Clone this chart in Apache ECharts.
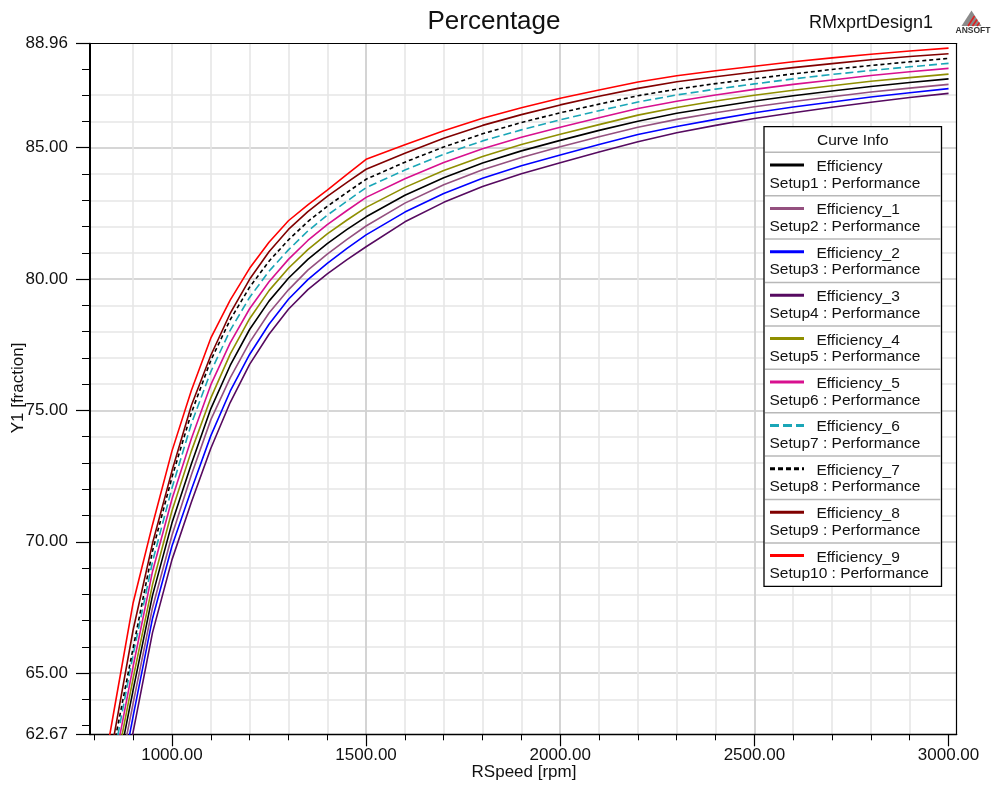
<!DOCTYPE html>
<html>
<head>
<meta charset="utf-8">
<script src="https://cdn.jsdelivr.net/npm/echarts@6/dist/echarts.min.js"></script>
<style>
  html, body { margin: 0; padding: 0; background: #fff; }
  #main { width: 991px; height: 787px; }
</style>
</head>
<body>
<div id="main"></div>
<script>
// speeds (rpm)
const rpm = [800, 850, 900, 950, 1000, 1050, 1100, 1150, 1200, 1250, 1300, 1350, 1400, 1450, 1500,
  1600, 1700, 1800, 1900, 2000, 2100, 2200, 2300, 2400, 2500, 2600, 2700, 2800, 2900, 3000]

// efficiency curves (%)
const eff0 = [56.5, 60.6, 64.35, 67.96, 70.71, 72.96, 75.06, 76.71, 78.08, 79.16, 80.03, 80.75, 81.35, 81.88, 82.37,
  83.19, 83.86, 84.42, 84.88, 85.28, 85.66, 86.01, 86.31, 86.55, 86.78, 86.98, 87.16, 87.33, 87.48, 87.62]
const eff1 = [56.0, 60.1, 63.85, 67.49, 70.24, 72.54, 74.64, 76.24, 77.59, 78.71, 79.59, 80.34, 80.95, 81.5, 82.02,
  82.89, 83.59, 84.16, 84.63, 85.04, 85.42, 85.78, 86.08, 86.33, 86.56, 86.76, 86.94, 87.12, 87.27, 87.41]
const eff2 = [55.4, 59.5, 63.35, 67.08, 69.83, 71.98, 74.03, 75.73, 77.13, 78.28, 79.23, 79.98, 80.6, 81.16, 81.68,
  82.55, 83.26, 83.84, 84.31, 84.72, 85.12, 85.5, 85.81, 86.08, 86.33, 86.55, 86.74, 86.93, 87.09, 87.25]
const eff3 = [54.8, 58.9, 62.75, 66.54, 69.31, 71.5, 73.55, 75.3, 76.75, 77.9, 78.85, 79.6, 80.2, 80.73, 81.23,
  82.18, 82.92, 83.52, 84.01, 84.43, 84.84, 85.23, 85.57, 85.85, 86.11, 86.33, 86.54, 86.73, 86.91, 87.07]
const eff4 = [56.9, 61.0, 64.8, 68.37, 71.17, 73.45, 75.47, 77.14, 78.49, 79.56, 80.41, 81.12, 81.72, 82.24, 82.73,
  83.49, 84.13, 84.67, 85.12, 85.51, 85.88, 86.24, 86.53, 86.78, 87.0, 87.19, 87.36, 87.53, 87.67, 87.8]
const eff5 = [57.3, 61.4, 65.25, 68.87, 71.62, 73.92, 75.97, 77.57, 78.87, 79.9, 80.75, 81.47, 82.07, 82.6, 83.11,
  83.82, 84.44, 84.96, 85.4, 85.78, 86.14, 86.49, 86.77, 87.01, 87.22, 87.41, 87.58, 87.75, 87.89, 88.02]
const eff6 = [57.7, 61.8, 65.7, 69.24, 72.04, 74.49, 76.47, 78.05, 79.3, 80.3, 81.11, 81.83, 82.43, 82.96, 83.48,
  84.15, 84.75, 85.26, 85.68, 86.06, 86.41, 86.74, 87.01, 87.23, 87.43, 87.62, 87.79, 87.94, 88.08, 88.21]
const eff7 = [58.1, 62.2, 65.95, 69.65, 72.45, 74.9, 76.9, 78.45, 79.69, 80.68, 81.49, 82.19, 82.77, 83.29, 83.8,
  84.45, 85.03, 85.53, 85.96, 86.33, 86.66, 86.98, 87.23, 87.44, 87.63, 87.81, 87.98, 88.13, 88.27, 88.4]
const eff8 = [58.4, 62.54, 66.64, 69.94, 72.69, 75.19, 77.09, 78.69, 79.99, 81.04, 81.89, 82.57, 83.15, 83.67, 84.18,
  84.79, 85.36, 85.85, 86.26, 86.63, 86.96, 87.26, 87.51, 87.7, 87.88, 88.05, 88.2, 88.35, 88.47, 88.58]
const eff9 = [59.3, 63.5, 67.67, 70.65, 73.45, 75.76, 77.75, 79.2, 80.41, 81.4, 82.22, 82.82, 83.39, 83.98, 84.56,
  85.11, 85.65, 86.12, 86.52, 86.88, 87.2, 87.5, 87.74, 87.93, 88.1, 88.27, 88.42, 88.56, 88.68, 88.79]

const names = ['Efficiency', 'Efficiency_1', 'Efficiency_2', 'Efficiency_3', 'Efficiency_4',
  'Efficiency_5', 'Efficiency_6', 'Efficiency_7', 'Efficiency_8', 'Efficiency_9']
const setups = ['Setup1 : Performance', 'Setup2 : Performance', 'Setup3 : Performance', 'Setup4 : Performance',
  'Setup5 : Performance', 'Setup6 : Performance', 'Setup7 : Performance', 'Setup8 : Performance',
  'Setup9 : Performance', 'Setup10 : Performance']
const values = [eff0, eff1, eff2, eff3, eff4, eff5, eff6, eff7, eff8, eff9]

// axis ticks
const xMinor = [800, 900, 1000, 1100, 1200, 1300, 1400, 1500, 1600, 1700, 1800, 1900, 2000,
  2100, 2200, 2300, 2400, 2500, 2600, 2700, 2800, 2900, 3000]
const xMajor = [1000, 1500, 2000, 2500, 3000]
const yMinor = [63, 64, 65, 66, 67, 68, 69, 70, 71, 72, 73, 74, 75, 76, 77, 78, 79, 80, 81, 82, 83, 84, 85, 86, 87, 88]
const yMajor = [62.67, 65, 70, 75, 80, 85, 88.96]

const colors = ['#000000', '#94507f', '#0000ff', '#560a60', '#8f8f00',
  '#d8108f', '#1aa6b7', '#000000', '#800000', '#ff0000']
const dashes = ['solid', 'solid', 'solid', 'solid', 'solid',
  'solid', [8, 4], [4, 3], 'solid', 'solid']

const FONT = '"Liberation Sans", Arial, sans-serif'

const myChart = echarts.init(document.getElementById('main'))

// legend box (Curve Info)
const lgX = 764, lgY = 126.7, lgW = 177.5, headH = 25.6, rowH = 43.4
const legendEls = [
  { type: 'rect', shape: { x: lgX, y: lgY, width: lgW, height: headH + rowH * 10 },
    style: { fill: '#fff', stroke: '#000', lineWidth: 1.3 }, z: 20 },
  { type: 'text', x: lgX + lgW / 2, y: lgY + 14,
    style: { text: 'Curve Info', font: '15.5px ' + FONT, fill: '#111', align: 'center', verticalAlign: 'middle' }, z: 21 }
]
names.forEach((n, i) => {
  const top = lgY + headH + rowH * i
  legendEls.push({ type: 'line', shape: { x1: lgX + 1, y1: top, x2: lgX + lgW - 1, y2: top },
    style: { stroke: '#b8b8b8', lineWidth: 1.5 }, z: 21 })
  legendEls.push({ type: 'line', shape: { x1: 770, y1: top + 12.7, x2: 804, y2: top + 12.7 },
    style: { stroke: colors[i], lineWidth: 3, lineDash: dashes[i] === 'solid' ? null : [dashes[i][0] + 1, dashes[i][1]] }, z: 21 })
  legendEls.push({ type: 'text', x: 816.5, y: top + 14.4,
    style: { text: n, font: '15.5px ' + FONT, fill: '#111', verticalAlign: 'middle' }, z: 21 })
  legendEls.push({ type: 'text', x: 769.5, y: top + 31,
    style: { text: setups[i], font: '15.5px ' + FONT, fill: '#111', verticalAlign: 'middle' }, z: 21 })
})

const option = {
  animation: false,
  backgroundColor: '#fff',
  grid: { left: 90, top: 43.7, right: 34.3, bottom: 52.7 },
  xAxis: [
    {
      type: 'value', min: 789, max: 3021, position: 'bottom',
      axisLine: { show: true, lineStyle: { color: '#000', width: 1.3 } },
      axisTick: { show: true, customValues: xMinor, length: 6, lineStyle: { color: '#000', width: 1 } },
      axisLabel: { show: false },
      splitLine: { show: true, showMinLine: false, showMaxLine: false, lineStyle: { color: '#e6e6e6', width: 1.6 } }
    },
    {
      type: 'value', min: 789, max: 3021, position: 'bottom',
      axisLine: { show: false },
      axisTick: { show: true, customValues: xMajor, length: 12, lineStyle: { color: '#000', width: 1.2 } },
      axisLabel: { show: true, customValues: xMajor, margin: 13, color: '#111', fontSize: 17, fontFamily: FONT,
        formatter: v => v.toFixed(2) },
      splitLine: { show: true, showMinLine: false, showMaxLine: false, lineStyle: { color: '#cfcfcf', width: 1.6 } }
    },
    {
      type: 'value', min: 789, max: 3021, position: 'top',
      axisLine: { show: true, lineStyle: { color: '#000', width: 1.2 } },
      axisTick: { show: false }, axisLabel: { show: false }, splitLine: { show: false }
    }
  ],
  yAxis: [
    {
      type: 'value', min: 62.67, max: 88.96, position: 'left',
      axisLine: { show: true, lineStyle: { color: '#000', width: 2 } },
      axisTick: { show: true, customValues: yMinor, length: 8, lineStyle: { color: '#000', width: 1 } },
      axisLabel: { show: false },
      splitLine: { show: true, showMinLine: false, showMaxLine: false, lineStyle: { color: '#e6e6e6', width: 1.6 } }
    },
    {
      type: 'value', min: 62.67, max: 88.96, position: 'left',
      axisLine: { show: false },
      axisTick: { show: true, customValues: yMajor, length: 14, lineStyle: { color: '#000', width: 1.2 } },
      axisLabel: { show: true, customValues: yMajor, margin: 22, color: '#111', fontSize: 17, fontFamily: FONT,
        formatter: v => v.toFixed(2) },
      splitLine: { show: true, showMinLine: false, showMaxLine: false, lineStyle: { color: '#cfcfcf', width: 1.6 } }
    },
    {
      type: 'value', min: 62.67, max: 88.96, position: 'right',
      axisLine: { show: true, lineStyle: { color: '#000', width: 1.2 } },
      axisTick: { show: false }, axisLabel: { show: false }, splitLine: { show: false }
    }
  ],
  series: names.map((n, i) => ({
    name: n,
    type: 'line',
    xAxisIndex: 0,
    yAxisIndex: 0,
    showSymbol: false,
    clip: true,
    z: 3,
    lineStyle: { color: colors[i], width: 1.6, type: dashes[i] },
    data: rpm.map((r, k) => [r, values[i][k]])
  })),
  graphic: [
    { type: 'text', x: 494, y: 22, style: { text: 'Percentage', font: '26px ' + FONT, fill: '#111', align: 'center', verticalAlign: 'middle' } },
    { type: 'text', x: 871, y: 23, style: { text: 'RMxprtDesign1', font: '18px ' + FONT, fill: '#111', align: 'center', verticalAlign: 'middle' } },
    { type: 'polygon', shape: { points: [[971.5, 10.5], [961.5, 26], [981.5, 26]] }, style: { fill: '#8a8a8a' } },
    { type: 'line', shape: { x1: 968, y1: 26, x2: 974.5, y2: 16 }, style: { stroke: '#e02020', lineWidth: 1.6 } },
    { type: 'line', shape: { x1: 972.5, y1: 26, x2: 977, y2: 19.5 }, style: { stroke: '#e02020', lineWidth: 1.6 } },
    { type: 'line', shape: { x1: 977, y1: 26, x2: 979.5, y2: 22.5 }, style: { stroke: '#e02020', lineWidth: 1.6 } },
    { type: 'text', x: 973, y: 30.5, style: { text: 'ANSOFT', font: 'bold 8.5px ' + FONT, fill: '#333', align: 'center', verticalAlign: 'middle' } },
    { type: 'text', x: 18, y: 388, rotation: Math.PI / 2,
      style: { text: 'Y1 [fraction]', font: '17px ' + FONT, fill: '#111', align: 'center', verticalAlign: 'middle' } },
    { type: 'text', x: 524, y: 772, style: { text: 'RSpeed [rpm]', font: '17px ' + FONT, fill: '#111', align: 'center', verticalAlign: 'middle' } }
  ].concat(legendEls)
}

myChart.setOption(option)
</script>
</body>
</html>
